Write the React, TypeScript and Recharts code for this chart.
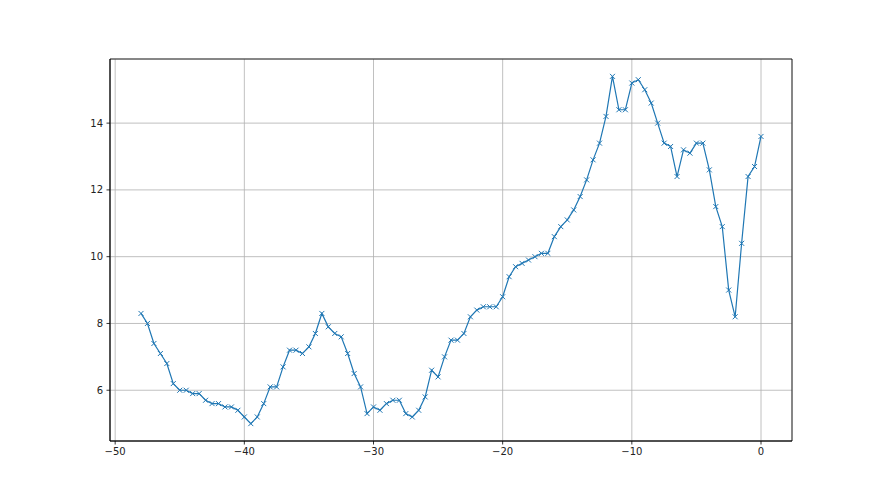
import React from "react"
import {
  CartesianGrid,
  Line,
  LineChart,
  ReferenceArea,
  XAxis,
  YAxis,
} from "recharts"

// x positions (step 0.5 from -48 to 0)
const xValues = [
  -48, -47.5, -47, -46.5, -46, -45.5, -45, -44.5, -44, -43.5,
  -43, -42.5, -42, -41.5, -41, -40.5, -40, -39.5, -39, -38.5,
  -38, -37.5, -37, -36.5, -36, -35.5, -35, -34.5, -34, -33.5,
  -33, -32.5, -32, -31.5, -31, -30.5, -30, -29.5, -29, -28.5,
  -28, -27.5, -27, -26.5, -26, -25.5, -25, -24.5, -24, -23.5,
  -23, -22.5, -22, -21.5, -21, -20.5, -20, -19.5, -19, -18.5,
  -18, -17.5, -17, -16.5, -16, -15.5, -15, -14.5, -14, -13.5,
  -13, -12.5, -12, -11.5, -11, -10.5, -10, -9.5, -9, -8.5,
  -8, -7.5, -7, -6.5, -6, -5.5, -5, -4.5, -4, -3.5,
  -3, -2.5, -2, -1.5, -1, -0.5, 0,
]

const yValues = [
  8.3, 8.0, 7.4, 7.1, 6.8, 6.2, 6.0, 6.0, 5.9, 5.9,
  5.7, 5.6, 5.6, 5.5, 5.5, 5.4, 5.2, 5.0, 5.2, 5.6,
  6.1, 6.1, 6.7, 7.2, 7.2, 7.1, 7.3, 7.7, 8.3, 7.9,
  7.7, 7.6, 7.1, 6.5, 6.1, 5.3, 5.5, 5.4, 5.6, 5.7,
  5.7, 5.3, 5.2, 5.4, 5.8, 6.6, 6.4, 7.0, 7.5, 7.5,
  7.7, 8.2, 8.4, 8.5, 8.5, 8.5, 8.8, 9.4, 9.7, 9.8,
  9.9, 10.0, 10.1, 10.1, 10.6, 10.9, 11.1, 11.4, 11.8, 12.3,
  12.9, 13.4, 14.2, 15.4, 14.4, 14.4, 15.2, 15.3, 15.0, 14.6,
  14.0, 13.4, 13.3, 12.4, 13.2, 13.1, 13.4, 13.4, 12.6, 11.5,
  10.9, 9.0, 8.2, 10.4, 12.4, 12.7, 13.6,
]

const xTicks = [-50, -40, -30, -20, -10, 0]
const yTicks = [6, 8, 10, 12, 14]

const xDomain: [number, number] = [-50.4, 2.4]
const yDomain: [number, number] = [4.48, 15.92]

const data = xValues.map((x, i) => ({ x, y: yValues[i] }))

const tickStyle = { fill: "#222", fontSize: 10, fontFamily: "DejaVu Sans" }

const formatTick = (value: number) => String(value).replace("-", "\u2212")

function XMark(props: any) {
  const { cx, cy, index } = props
  if (cx == null || cy == null) return <g key={`m-${index}`} />
  const r = 2.5
  return (
    <g key={`m-${index}`} stroke="#1f77b4" strokeWidth={1}>
      <line x1={cx - r} y1={cy - r} x2={cx + r} y2={cy + r} />
      <line x1={cx - r} y1={cy + r} x2={cx + r} y2={cy - r} />
    </g>
  )
}

export default function App() {
  return (
    <div style={{ position: "absolute", left: 0, top: 0, width: 880, height: 495, background: "#fff" }}>
      <LineChart
        width={880}
        height={495}
        data={data}
        margin={{ top: 59, right: 88, bottom: 24, left: 70 }}
      >
        <CartesianGrid stroke="#b0b0b0" strokeWidth={0.8} />
        <XAxis
          dataKey="x"
          type="number"
          domain={xDomain}
          ticks={xTicks}
          allowDataOverflow
          height={30}
          tickSize={3.5}
          tickMargin={3.5}
          tick={tickStyle}
          tickFormatter={formatTick}
          axisLine={{ stroke: "#000", strokeWidth: 0.8 }}
          tickLine={{ stroke: "#000", strokeWidth: 0.8 }}
        />
        <YAxis
          type="number"
          domain={yDomain}
          ticks={yTicks}
          allowDataOverflow
          width={40}
          tickSize={3.5}
          tickMargin={3.5}
          tick={tickStyle}
          tickFormatter={formatTick}
          axisLine={{ stroke: "#000", strokeWidth: 0.8 }}
          tickLine={{ stroke: "#000", strokeWidth: 0.8 }}
        />
        <ReferenceArea
          x1={xDomain[0]}
          x2={xDomain[1]}
          y1={yDomain[0]}
          y2={yDomain[1]}
          fill="none"
          stroke="#000"
          strokeWidth={0.8}
          ifOverflow="visible"
        />
        <Line
          dataKey="y"
          stroke="#1f77b4"
          strokeWidth={1.2}
          dot={XMark}
          activeDot={false}
          isAnimationActive={false}
        />
      </LineChart>
    </div>
  )
}
